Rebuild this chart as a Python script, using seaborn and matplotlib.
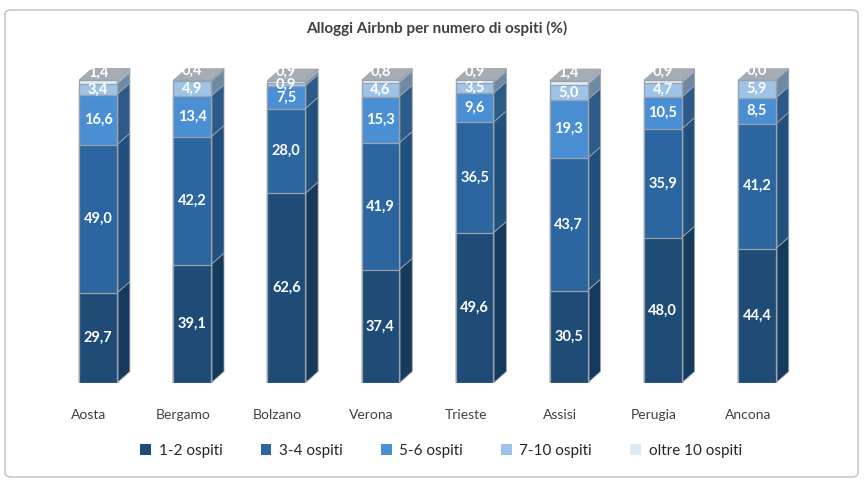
import matplotlib
matplotlib.use("Agg")
import matplotlib.pyplot as plt
import matplotlib.transforms as mtransforms
from matplotlib.patches import Polygon, FancyBboxPatch, Patch
import numpy as np
import seaborn as sns

cities = ["Aosta", "Bergamo", "Bolzano", "Verona", "Trieste", "Assisi", "Perugia", "Ancona"]
series_names = ["1-2 ospiti", "3-4 ospiti", "5-6 ospiti", "7-10 ospiti", "oltre 10 ospiti"]
s_1_2 = [29.7, 39.1, 62.6, 37.4, 49.6, 30.5, 48.0, 44.4]
s_3_4 = [49.0, 42.2, 28.0, 41.9, 36.5, 43.7, 35.9, 41.2]
s_5_6 = [16.6, 13.4, 7.5, 15.3, 9.6, 19.3, 10.5, 8.5]
s_7_10 = [3.4, 4.9, 0.9, 4.6, 3.5, 5.0, 4.7, 5.9]
s_oltre = [1.4, 0.4, 0.9, 0.8, 0.9, 1.4, 0.9, 0.0]
title = "Alloggi Airbnb per numero di ospiti (%)"

front_colors = ["#1f4b77", "#2b66a1", "#4a8fd3", "#9dc3e6", "#deebf7"]
side_colors = ["#163a5d", "#22507e", "#2d5b89", "#6f89a3", "#a7b3bf"]
top_color = "#a6adb4"
edge_color = "#9aa3ab"

sns.set_theme(style="white")
plt.rcParams["font.family"] = ["Lato", "DejaVu Sans"]

W, H = 865, 482
fig = plt.figure(figsize=(W / 100, H / 100), dpi=100)
ax = fig.add_axes([51 / W, (H - 383) / H, (804 - 51) / W, 333 / H])

series = [s_1_2, s_3_4, s_5_6, s_7_10, s_oltre]
vals = np.array(series)
cum = np.cumsum(vals, axis=0)

bar_w = 0.40
layer_patches = {}
for k in range(len(series) - 1, -1, -1):
    n_before = len(ax.patches)
    sns.barplot(x=cities, y=cum[k], color=front_colors[k], width=bar_w,
                errorbar=None, ax=ax, edgecolor=edge_color, linewidth=0.9,
                saturation=1, zorder=3)
    layer_patches[k] = ax.patches[n_before:]

ax.set_xlim(-0.5, len(cities) - 0.5)
ax.set_ylim(0, 110)

dx = 0.138
dy = 3.8
bottom_patches = layer_patches[0]
for i, p in enumerate(bottom_patches):
    x0 = p.get_x()
    w = p.get_width()
    xr = x0 + w
    base = 0.0
    for k in range(len(series)):
        top = cum[k][i]
        if top - base > 0:
            poly = Polygon([(xr, base), (xr + dx, base + dy), (xr + dx, top + dy), (xr, top)],
                           closed=True, facecolor=side_colors[k], edgecolor=edge_color,
                           linewidth=0.6, zorder=2)
            ax.add_patch(poly)
        base = top
    T = cum[-1][i]
    topface = Polygon([(x0, T), (x0 + dx, T + dy), (xr + dx, T + dy), (xr, T)],
                      closed=True, facecolor=top_color, edgecolor=edge_color,
                      linewidth=0.6, zorder=2)
    ax.add_patch(topface)

    base = 0.0
    for k in range(len(series)):
        v = vals[k][i]
        c = x0 + w / 2
        txt = f"{v:.1f}".replace(".", ",")
        yy = base + v / 2 + (3.2 if k == len(series) - 1 else 0)
        ax.text(c, yy, txt, ha="center", va="center",
                color="white", fontsize=10.5, fontweight="bold", zorder=5)
        base += v

for s in ax.spines.values():
    s.set_visible(False)
ax.set_yticks([])
ax.tick_params(axis="x", length=0, pad=19, labelsize=10, labelcolor="#404040")
offset = mtransforms.ScaledTranslation(-9 / 100, 0, fig.dpi_scale_trans)
for lbl in ax.get_xticklabels():
    lbl.set_transform(lbl.get_transform() + offset)
ax.set_xlabel("")
ax.set_ylabel("")

fig.text(437 / W, 1 - 28 / H, title, ha="center", va="center",
         fontsize=11, fontweight="bold", color="#404040")

handles = [Patch(facecolor=front_colors[k], edgecolor="none", label=series_names[k])
           for k in range(len(series))]
fig.legend(handles=handles, loc="center", bbox_to_anchor=(441 / W, 1 - 451 / H), ncol=5,
           frameon=False, fontsize=11, handlelength=0.7, handleheight=0.7,
           columnspacing=2.5, handletextpad=0.5, labelcolor="#262626")

border = FancyBboxPatch((5 / W, 5 / H), 853 / W, 467 / H, boxstyle="round,pad=0,rounding_size=0.008",
                        transform=fig.transFigure, facecolor="none", edgecolor="#bfbfbf",
                        linewidth=1.0)
fig.patches.append(border)

fig.savefig("out.png", dpi=100)
